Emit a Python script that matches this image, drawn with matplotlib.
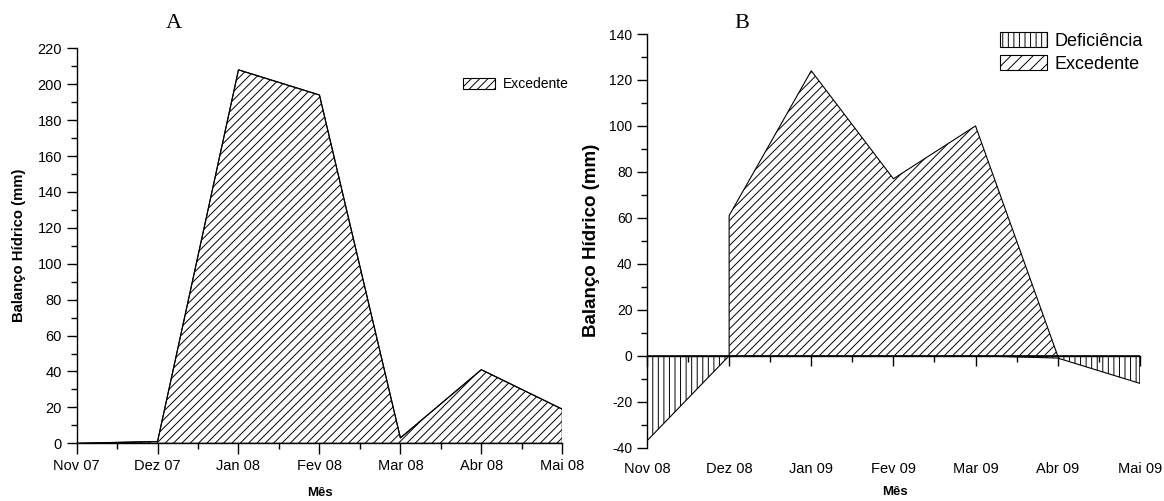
import numpy as np
import matplotlib
matplotlib.use("Agg")
import matplotlib.pyplot as plt
from matplotlib.patches import Patch
from matplotlib.ticker import MultipleLocator

plt.rcParams['font.family'] = ['Liberation Sans', 'DejaVu Sans']
plt.rcParams['hatch.linewidth'] = 0.7
plt.rcParams['axes.unicode_minus'] = False

# Panel A: 2007/2008 season
months_a = ["Nov 07", "Dez 07", "Jan 08", "Fev 08", "Mar 08", "Abr 08", "Mai 08"]
excedente_a = [0, 1, 208, 194, 3, 41, 19]

# Panel B: 2008/2009 season
months_b = ["Nov 08", "Dez 08", "Jan 09", "Fev 09", "Mar 09", "Abr 09", "Mai 09"]
excedente_b = [np.nan, 61, 124, 77, 100, 0, np.nan]
deficiencia_b = [-37, 0, 0, 0, 0, -1, -12]

W, H = 1164, 501
fig = plt.figure(figsize=(W / 100, H / 100), dpi=100)
axA = fig.add_axes([76.6 / W, 1 - 443.3 / H, (562.3 - 76.6) / W, (443.3 - 48.3) / H])
axB = fig.add_axes([647 / W, 1 - 447.7 / H, (1139.8 - 647) / W, (447.7 - 34) / H])

ylabel = "Balanço Hídrico (mm)"


def style_axes(ax):
    ax.spines['top'].set_visible(False)
    ax.spines['right'].set_visible(False)
    ax.xaxis.set_minor_locator(MultipleLocator(0.5))
    ax.yaxis.set_minor_locator(MultipleLocator(10))
    ax.yaxis.set_major_locator(MultipleLocator(20))
    ax.tick_params(which='major', direction='out', length=7, width=1)
    ax.tick_params(which='minor', direction='out', length=4, width=1)
    for s in ('left', 'bottom'):
        ax.spines[s].set_linewidth(1.0)


# ---- Panel A ----
xa = np.arange(len(months_a))
axA.fill_between(xa, 0, excedente_a, facecolor='white', edgecolor='black',
                 hatch='////', linewidth=0.8)
axA.plot(xa, excedente_a, color='black', lw=0.8)
axA.set_xlim(0, len(months_a) - 1)
axA.set_ylim(0, 220)
style_axes(axA)
axA.set_xticks(xa)
axA.set_xticklabels(months_a, fontsize=10.5)
axA.tick_params(axis='y', labelsize=10.5)
axA.tick_params(axis='x', which='major', length=8)
axA.set_ylabel(ylabel, fontsize=10.7, fontweight='bold')
axA.yaxis.set_label_coords((26 - 76.6) / (562.3 - 76.6), 0.5)
fig.text(320 / W, 1 - 493 / H, "Mês", fontsize=9.5, fontweight='bold',
         ha='center', va='center')
axA.legend(handles=[Patch(facecolor='white', edgecolor='black', hatch='////', lw=0.8,
                          label='Excedente')],
           loc='upper right', bbox_to_anchor=(1.04, 0.958), frameon=False,
           fontsize=10, handlelength=2.3, handleheight=0.9, handletextpad=0.6)
fig.text(174 / W, 1 - 24 / H, "A", family='Liberation Serif', fontsize=16,
         ha='center', va='center')

# ---- Panel B ----
xb = np.arange(len(months_b))
axB.fill_between(xb, 0, deficiencia_b, facecolor='white', edgecolor='black',
                 hatch='|||', linewidth=0.8)
axB.fill_between(xb, 0, excedente_b, facecolor='white', edgecolor='black',
                 hatch='////', linewidth=0.8)
axB.set_xlim(0, len(months_b) - 1)
axB.set_ylim(-40, 140)
style_axes(axB)
axB.spines['bottom'].set_position(('data', 0))
axB.set_xticks(xb)
axB.tick_params(axis='x', labelbottom=False)
axB.tick_params(axis='y', labelsize=10)
sec = axB.secondary_xaxis('bottom')
sec.set_xticks(xb)
sec.set_xticklabels(months_b, fontsize=10.5)
sec.tick_params(length=0, pad=10)
sec.spines['bottom'].set_visible(False)
fig.text(895 / W, 1 - 492 / H, "Mês", fontsize=9.5, fontweight='bold',
         ha='center', va='center')
axB.set_ylabel(ylabel, fontsize=13.5, fontweight='bold')
axB.yaxis.set_label_coords((600 - 647) / (1139.8 - 647), 0.5)
axB.legend(handles=[Patch(facecolor='white', edgecolor='black', hatch='|||', lw=0.8,
                          label='Deficiência'),
                    Patch(facecolor='white', edgecolor='black', hatch='///', lw=0.8,
                          label='Excedente')],
           loc='upper right', bbox_to_anchor=(1.039, 1.044), frameon=False,
           fontsize=13, handlelength=2.6, handleheight=0.9, handletextpad=0.4,
           labelspacing=0.3)
fig.text(742 / W, 1 - 24 / H, "B", family='Liberation Serif', fontsize=16,
         ha='center', va='center')

fig.savefig("out.png", dpi=100)
